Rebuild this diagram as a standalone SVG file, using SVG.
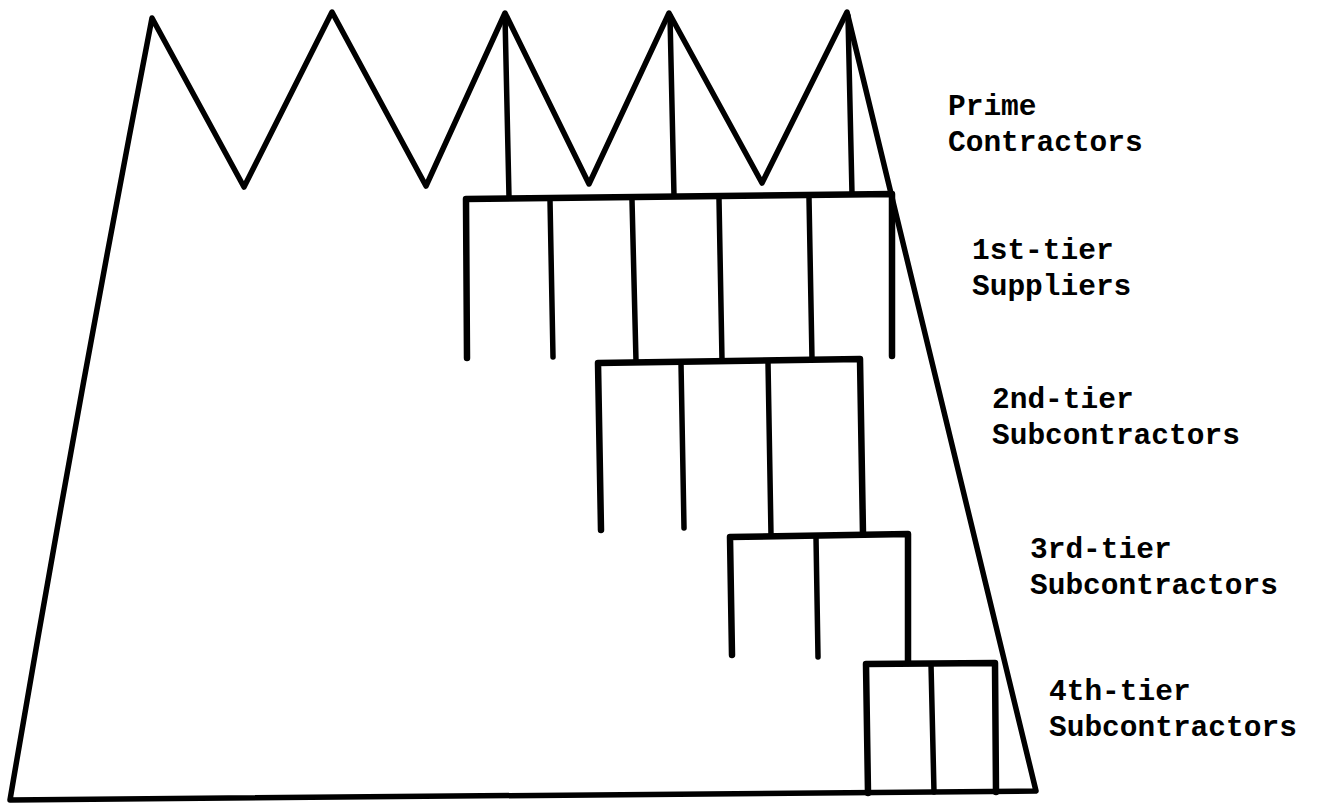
<svg xmlns="http://www.w3.org/2000/svg" width="1321" height="803" viewBox="0 0 1321 803">
<style>
.ln{fill:none;stroke:#000;stroke-width:5.5;stroke-linecap:round;stroke-linejoin:round}
.bar{fill:none;stroke:#000;stroke-width:6.5;stroke-linecap:round;stroke-linejoin:round}
.lbl{font-family:"Liberation Mono","Courier New",monospace;font-weight:bold;font-size:29.5px;fill:#000}
</style>
<rect width="1321" height="803" fill="#fff"/>
<g id="outline">
<path class="ln" d="M10,800 Q78,400 152,18 L244,187 L332,12 L426,186 L505,13 L589,184 L669,13 L762,183 L847,12 L1036,791 Z"/>
</g>
<g id="connectors">
<g id="prime-drops">
<path class="ln" d="M505,16 L509,197 M670,16 L674,196 M848,16 L852,194"/>
</g>
<g id="tier1">
<path class="bar" d="M467,358 L466,199 L892,194 L892,356"/>
<path class="ln" d="M550,200 L553,357 M632,200 L636,361 M719,199 L722,360 M809,198 L812,359"/>
</g>
<g id="tier2">
<path class="bar" d="M601,530 L598,363 L860,359 L863,534"/>
<path class="ln" d="M681,363 L684,528 M768,362 L771,535"/>
</g>
<g id="tier3">
<path class="bar" d="M732,655 L730,537 L908,534 L908,663"/>
<path class="ln" d="M816,537 L818,657"/>
</g>
<g id="tier4">
<path class="bar" d="M868,793 L866,664 L995,663 L996,792"/>
<path class="ln" d="M931,664 L934,792"/>
</g>
</g>
<g id="label-prime"><text class="lbl" x="948" y="115">Prime</text><text class="lbl" x="948" y="151">Contractors</text></g>
<g id="label-tier1"><text class="lbl" x="972" y="259">1st-tier</text><text class="lbl" x="972" y="295">Suppliers</text></g>
<g id="label-tier2"><text class="lbl" x="992" y="408">2nd-tier</text><text class="lbl" x="992" y="444">Subcontractors</text></g>
<g id="label-tier3"><text class="lbl" x="1030" y="558">3rd-tier</text><text class="lbl" x="1030" y="594">Subcontractors</text></g>
<g id="label-tier4"><text class="lbl" x="1049" y="700">4th-tier</text><text class="lbl" x="1049" y="736">Subcontractors</text></g>
</svg>
